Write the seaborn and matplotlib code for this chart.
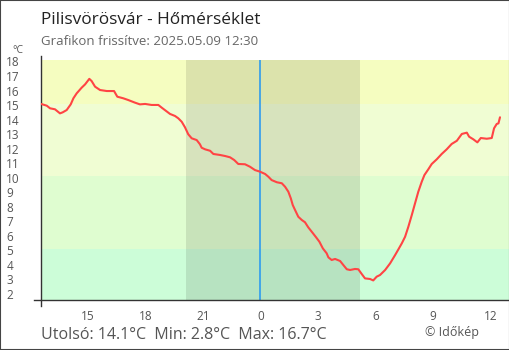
import matplotlib
matplotlib.use("Agg")
import matplotlib.pyplot as plt
import seaborn as sns
import pandas as pd
from matplotlib.patches import Rectangle
import matplotlib.transforms as mtransforms

# hours relative to midnight (2025.05.09 00:00); negative = previous day
hours = [-11.44, -11.14, -10.97, -10.71, -10.45, -10.31, -10.10, -9.89, -9.75, -9.58,
         -9.32, -9.14, -8.92, -8.80, -8.62, -8.36, -8.01, -7.75, -7.63, -7.46,
         -7.15, -6.89, -6.54, -6.28, -6.01, -5.67, -5.32, -5.14, -4.93, -4.71,
         -4.45, -4.28, -4.10, -3.93, -3.76, -3.58, -3.32, -3.15, -3.06, -2.88,
         -2.62, -2.45, -2.10, -1.84, -1.58, -1.36, -1.15, -0.80, -0.54, -0.28,
         -0.02, 0.25, 0.42, 0.59, 0.86, 1.12, 1.29, 1.46, 1.59, 1.69,
         1.81, 1.98, 2.16, 2.33, 2.50, 2.68, 2.91, 3.08, 3.26, 3.46,
         3.55, 3.72, 3.90, 4.16, 4.33, 4.51, 4.68, 4.94, 5.11, 5.29,
         5.46, 5.72, 5.89, 6.07, 6.24, 6.51, 6.77, 7.03, 7.20, 7.38,
         7.55, 7.72, 7.90, 8.07, 8.24, 8.42, 8.56, 8.76, 8.94, 9.20,
         9.46, 9.72, 9.98, 10.25, 10.51, 10.77, 10.89, 11.11, 11.32, 11.50,
         11.81, 12.07, 12.19, 12.33, 12.42, 12.50]
temps = [14.97, 14.85, 14.67, 14.60, 14.32, 14.39, 14.55, 14.94, 15.36, 15.70,
         16.09, 16.32, 16.70, 16.55, 16.16, 15.93, 15.86, 15.86, 15.86, 15.47,
         15.36, 15.24, 15.06, 14.94, 14.97, 14.90, 14.90, 14.71, 14.50, 14.28,
         14.14, 13.98, 13.74, 13.36, 12.88, 12.60, 12.48, 12.19, 11.95, 11.84,
         11.74, 11.52, 11.45, 11.38, 11.29, 11.10, 10.83, 10.81, 10.64, 10.41,
         10.30, 10.14, 9.95, 9.72, 9.57, 9.50, 9.26, 8.92, 8.46, 8.00,
         7.66, 7.19, 6.97, 6.81, 6.46, 6.16, 5.77, 5.47, 5.01, 4.67,
         4.39, 4.21, 4.28, 4.14, 3.86, 3.57, 3.52, 3.59, 3.57, 3.24,
         2.94, 2.90, 2.80, 3.06, 3.17, 3.52, 3.98, 4.55, 4.94, 5.36,
         5.81, 6.50, 7.31, 8.12, 8.92, 9.61, 10.07, 10.46, 10.83, 11.15,
         11.52, 11.84, 12.21, 12.43, 12.90, 12.99, 12.71, 12.53, 12.32, 12.62,
         12.57, 12.62, 13.29, 13.59, 13.63, 14.05]

x_tick_pos = [-9, -6, -3, 0, 3, 6, 9, 12]
x_tick_labels = ["15", "18", "21", "0", "3", "6", "9", "12"]
y_ticks = list(range(2, 19))

bands = [(1.45, 5, "#ccfdd8"), (5, 10, "#dffdd0"), (10, 15, "#f0fdd3"), (15, 18, "#f5fdc0")]
night = (-3.87, 5.2)

title = "Pilisvörösvár - Hőmérséklet"
subtitle = "Grafikon frissítve: 2025.05.09 12:30"
summary = "Utolsó: 14.1°C  Min: 2.8°C  Max: 16.7°C"
credit = "© Időkép"

sns.set_style("white")
plt.rcParams['font.family'] = ['Open Sans', 'DejaVu Sans']

W, H = 510, 350
fig = plt.figure(figsize=(W / 100, H / 100), dpi=100)
fig.patch.set_facecolor("white")
ax = fig.add_axes([41 / W, 50 / H, (509 - 41) / W, 240 / H])

xmin, xmax = -11.44, 12.97
ymin, ymax = 1.45, 18.0
for lo, hi, c in bands:
    ax.axhspan(lo, hi, color=c, lw=0, zorder=0)
ax.axvspan(night[0], night[1], color="black", alpha=0.1, lw=0, zorder=1)
ax.axvline(0, color="#2196f3", lw=1.1, zorder=2)

df = pd.DataFrame({"h": hours, "t": temps})
sns.lineplot(data=df, x="h", y="t", ax=ax, color="#ff4444", lw=1.5, zorder=3)

ax.set_xlim(xmin, xmax)
ax.set_ylim(ymin, ymax)
ax.set_xlabel("")
ax.set_ylabel("")
ax.set_xticks(x_tick_pos)
ax.set_xticklabels(x_tick_labels)
ax.set_yticks(y_ticks)
ax.set_yticklabels([str(v) for v in y_ticks])

for s in ["top", "right"]:
    ax.spines[s].set_visible(False)
for s in ["left", "bottom"]:
    ax.spines[s].set_color("#333333")
    ax.spines[s].set_linewidth(1.0)
ax.spines["left"].set_bounds(1.04, 18.28)
ax.spines["bottom"].set_bounds(-11.80, xmax)

ax.tick_params(axis="both", direction="inout", length=9, width=1, color="#333333",
               labelcolor="#555555")
ax.tick_params(axis="x", labelsize=8.5, pad=3)
ax.tick_params(axis="y", labelsize=8.5, pad=20.5)
shift = mtransforms.ScaledTranslation(0, -1.5 / 100, fig.dpi_scale_trans)
for lab in ax.get_yticklabels():
    lab.set_horizontalalignment("left")
    lab.set_transform(lab.get_transform() + shift)

def fx(x):
    return x / W

def fy(y):
    return 1 - y / H

fig.text(fx(41), fy(24), title, fontsize=12.4, color="#222222", va="baseline", ha="left")
fig.text(fx(41), fy(45), subtitle, fontsize=9.5, color="#666666", va="baseline", ha="left")
fig.text(fx(12), fy(53), "°C", fontsize=7.5, color="#555555", va="baseline", ha="left")
fig.text(fx(41), fy(339), summary, fontsize=11.5, color="#555555", va="baseline", ha="left")
fig.text(fx(425), fy(336), credit, fontsize=9, color="#555555", va="baseline", ha="left")

fig.patches.append(Rectangle((0, 0), 1, 1, transform=fig.transFigure, fill=False,
                             edgecolor="#444444", lw=1.5))

fig.savefig("out.png", dpi=100)
